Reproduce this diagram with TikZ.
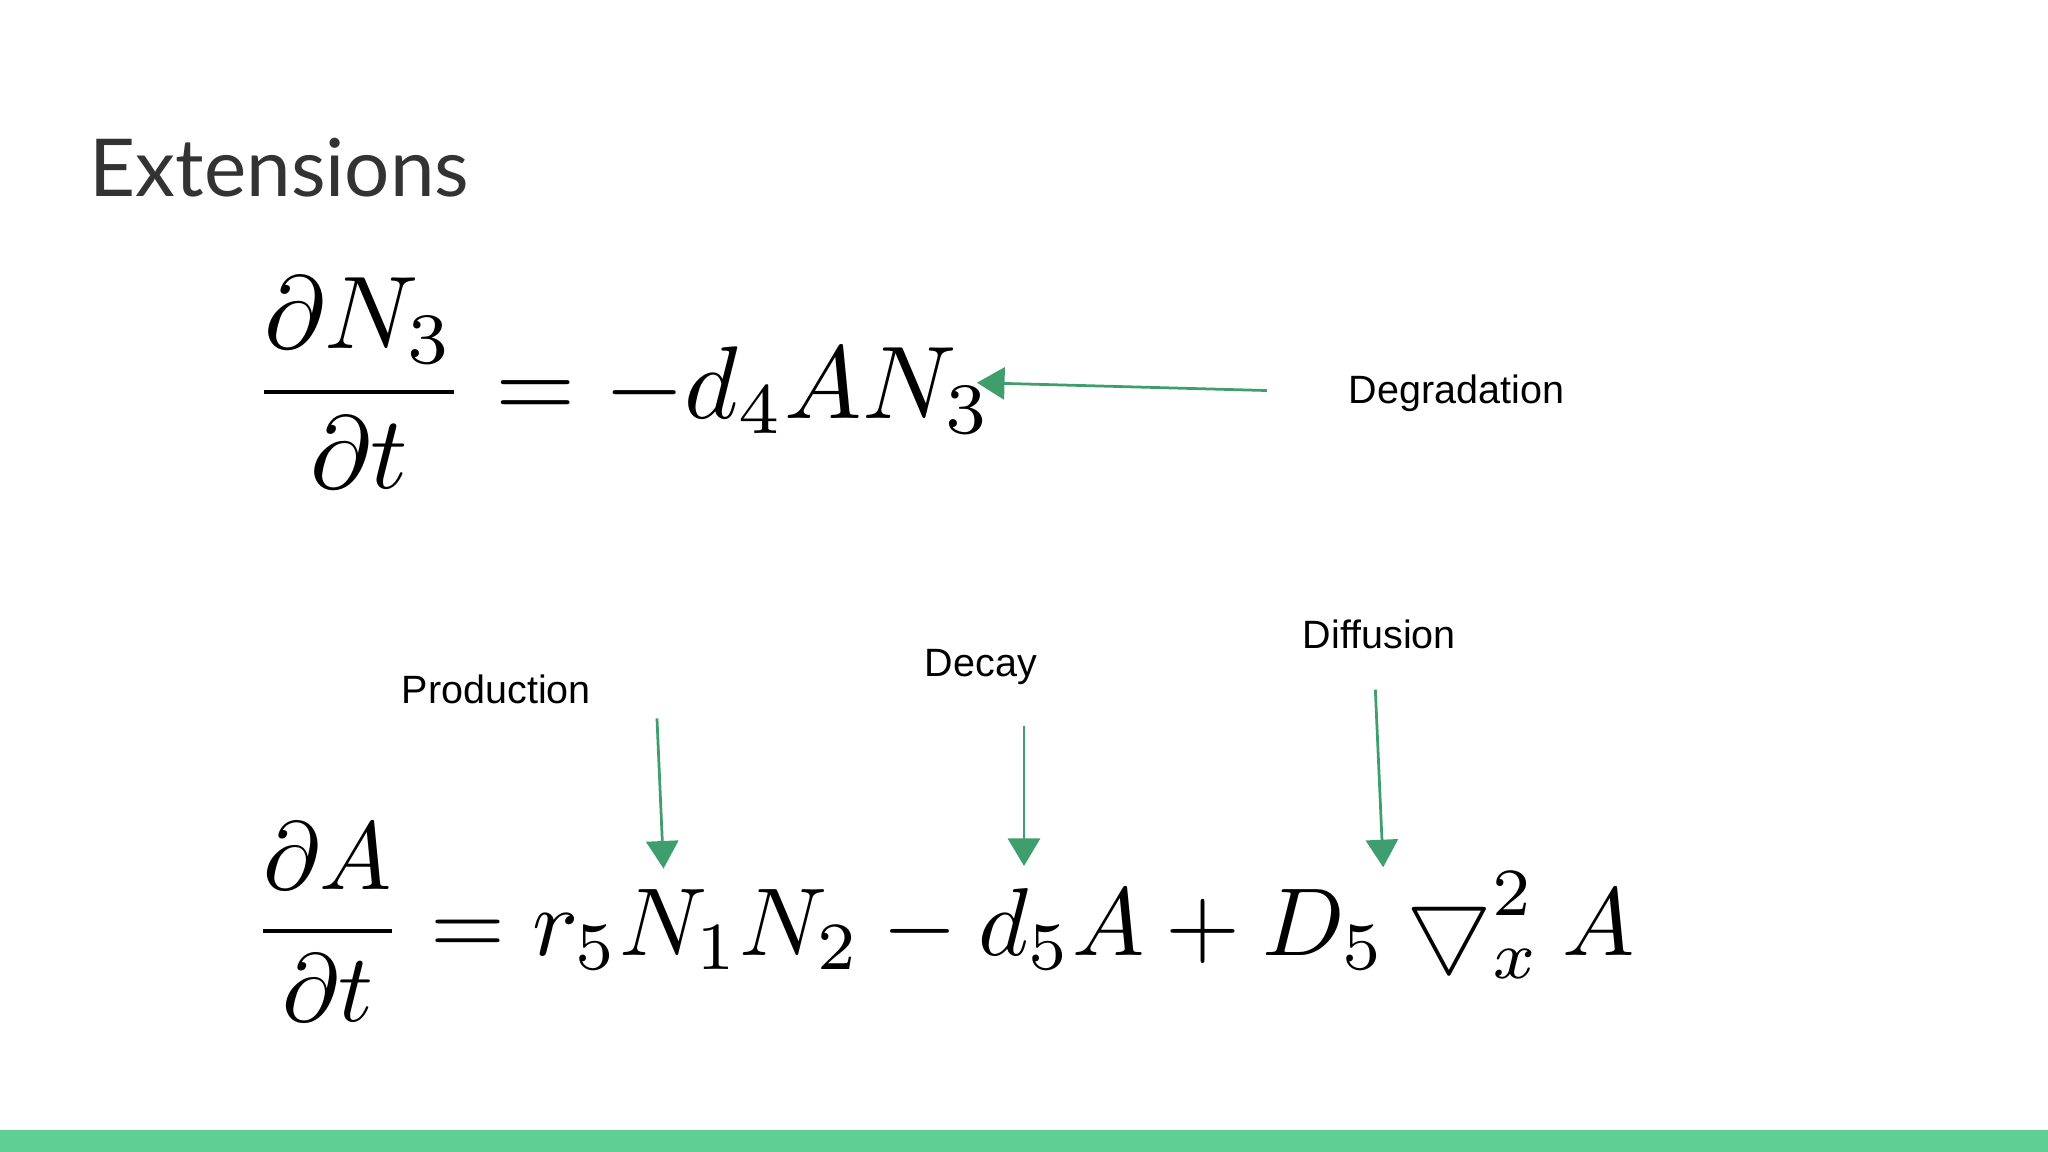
\documentclass[tikz,border=0pt]{standalone}
\usepackage{amsmath}
\usepackage{fontspec}
\newfontfamily\labfont{Liberation Sans}
\newfontfamily\titfont{Lato}
\usetikzlibrary{arrows.meta}
\definecolor{arrg}{HTML}{3F9E6E}
\definecolor{barg}{HTML}{5FCF94}
\definecolor{titc}{HTML}{333333}
\tikzset{lab/.style={font=\labfont\fontsize{8.6}{10}\selectfont,inner sep=0},
 eqn/.style={inner sep=0,anchor=west},
 garr/.style={draw=arrg,line width=0.6pt,-{Triangle[length=6pt,width=7pt]}}}
\begin{document}
\begin{tikzpicture}[x=0.01cm,y=-0.01cm]
\useasboundingbox (0,0) rectangle (1568,882);
\fill[barg] (0,865) rectangle (1568,882);
\node[font=\titfont\fontsize{17.4}{21}\selectfont,text=titc,anchor=west,inner sep=0] (title) at (68,128) {Extensions};
\node[eqn] (eq1) at (192,293) {\scalebox{2.25}{$\displaystyle \frac{\partial N_3}{\partial t} = -d_4AN_3$}};
\node[eqn] (eq2) at (192,706) {\scalebox{2.1}{$\displaystyle \frac{\partial A}{\partial t} = r_5N_1N_2 - d_5A + D_5\bigtriangledown_x^2 A$}};
\node[lab,anchor=west] (deg) at (1032,301) {Degradation};
\node[lab] (prod) at (380,528) {Production};
\node[lab] (dec) at (751,511) {Decay};
\node[lab] (dif) at (1056,486) {Diffusion};
\coordinate (d1) at (970,299); \coordinate (d2) at (748,293);
\coordinate (p1) at (503,550); \coordinate (p2) at (508,665);
\coordinate (c1) at (784,556); \coordinate (c2) at (784,663);
\coordinate (f1) at (1053,528); \coordinate (f2) at (1059,664);
\draw[garr] (d1) -- (d2);
\draw[garr] (p1) -- (p2);
\draw[garr] (c1) -- (c2);
\draw[garr] (f1) -- (f2);
\end{tikzpicture}
\end{document}
